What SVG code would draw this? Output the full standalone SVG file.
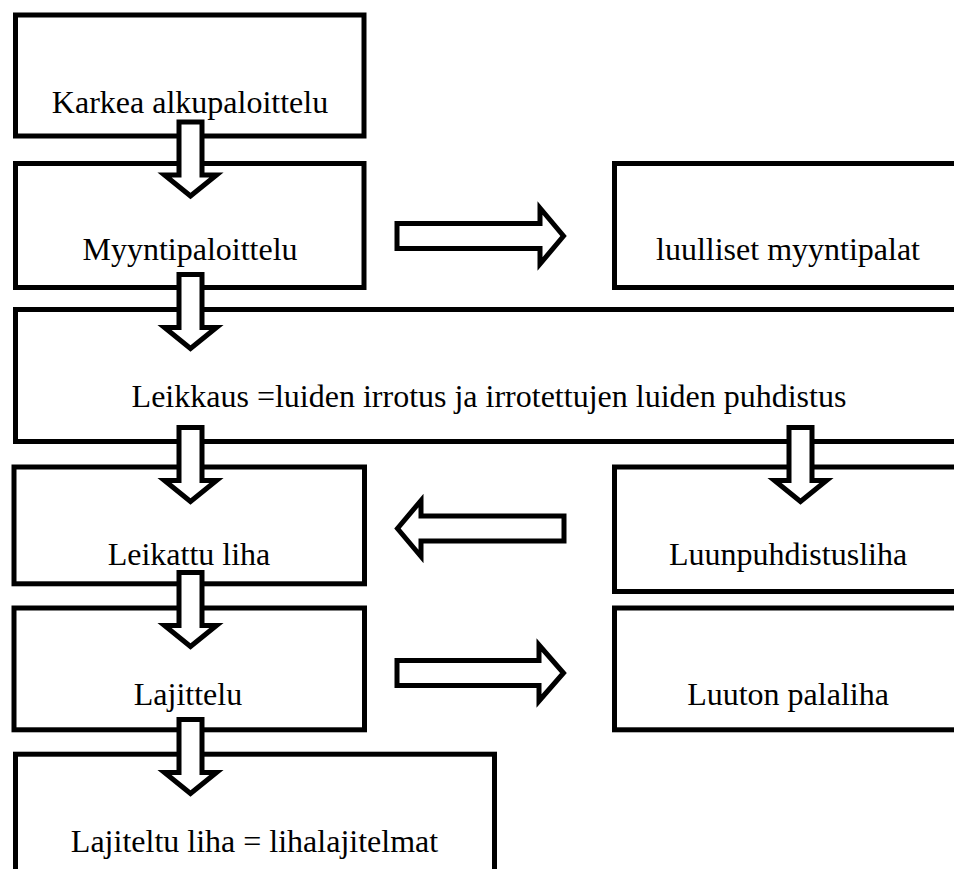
<svg xmlns="http://www.w3.org/2000/svg" width="954" height="869" viewBox="0 0 954 869">
<style>
.box{fill:#fff;stroke:#000;stroke-width:5}
.arr{fill:#fff;stroke:#000;stroke-width:5;stroke-linejoin:miter;stroke-miterlimit:10}
.lbl{font-family:"Liberation Serif","Times New Roman",serif;font-size:32px;fill:#000;text-anchor:middle}
</style>
<rect width="954" height="869" fill="#fff"/>
<g id="n1"><rect class="box" x="15.5" y="15" width="348.5" height="121"/><text class="lbl" x="190" y="113">Karkea alkupaloittelu</text></g>
<g id="n2"><rect class="box" x="15.5" y="163.5" width="348.5" height="124"/><text class="lbl" x="190" y="260">Myyntipaloittelu</text></g>
<g id="n3"><rect class="box" x="614.5" y="163.5" width="350" height="124"/><text class="lbl" x="788" y="260">luulliset myyntipalat</text></g>
<g id="n4"><rect class="box" x="15.5" y="309.5" width="950" height="132"/><text class="lbl" x="489" y="406.5">Leikkaus =luiden irrotus ja irrotettujen luiden puhdistus</text></g>
<g id="n5"><rect class="box" x="14" y="467" width="350.5" height="116.8"/><text class="lbl" x="189" y="565">Leikattu liha</text></g>
<g id="n6"><rect class="box" x="614.5" y="467" width="350" height="124.5"/><text class="lbl" x="788" y="565">Luunpuhdistusliha</text></g>
<g id="n7"><rect class="box" x="14" y="608" width="350.5" height="121.8"/><text class="lbl" x="188" y="705">Lajittelu</text></g>
<g id="n8"><rect class="box" x="614.5" y="608" width="350" height="121.8"/><text class="lbl" x="788" y="705">Luuton palaliha</text></g>
<g id="n9"><rect class="box" x="15.5" y="754.2" width="479" height="200"/><text class="lbl" x="254.5" y="851.5">Lajiteltu liha = lihalajitelmat</text></g>
<g id="connectors">
<path class="arr" d="M179,122 H202 V175 H216.5 L190.5,196 L164.5,175 H179 Z"/>
<path class="arr" d="M179,274.5 H202 V327.5 H216.5 L190.5,348.5 L164.5,327.5 H179 Z"/>
<path class="arr" d="M179,427.5 H202 V480.5 H216.5 L190.5,501.5 L164.5,480.5 H179 Z"/>
<path class="arr" d="M789,427.5 H812 V480.5 H826.5 L800.5,501.5 L774.5,480.5 H789 Z"/>
<path class="arr" d="M179,572.5 H202 V625.5 H216.5 L190.5,646.5 L164.5,625.5 H179 Z"/>
<path class="arr" d="M179,719.5 H202 V772.5 H216.5 L190.5,793.5 L164.5,772.5 H179 Z"/>
<path class="arr" d="M397,223.5 H540 V208 L563.5,236 L540,264 V248.5 H397 Z"/>
<path class="arr" d="M564,516 H421 V500.5 L397.5,528.5 L421,556.5 V541 H564 Z"/>
<path class="arr" d="M397,660.5 H539 V645 L563.5,673 L539,701 V685.5 H397 Z"/>
</g>
</svg>
